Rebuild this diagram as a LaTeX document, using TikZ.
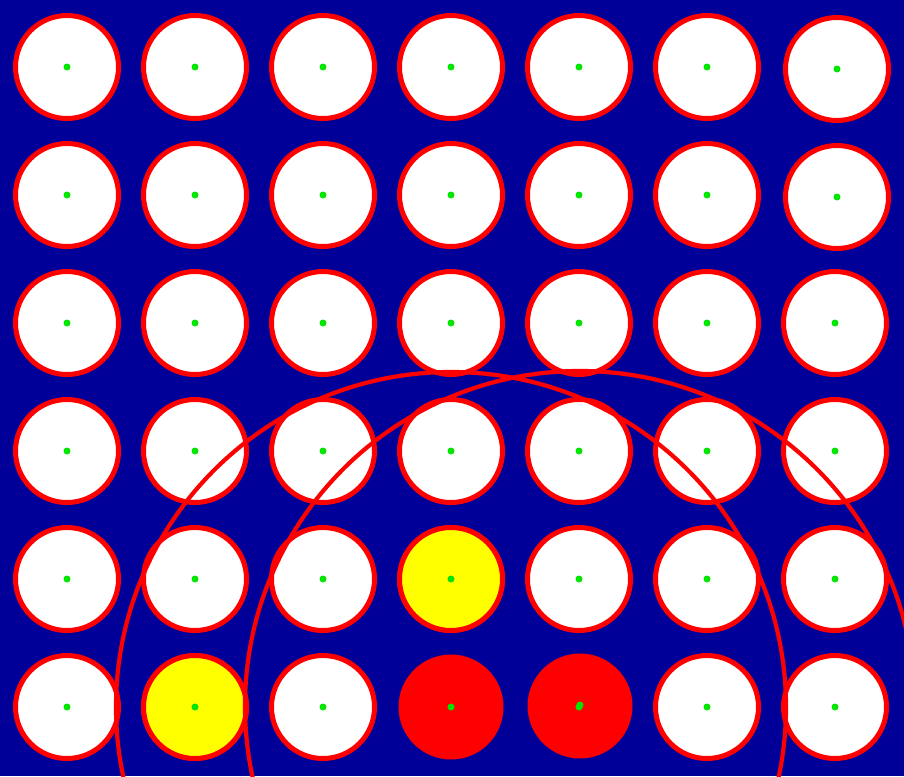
\documentclass[tikz,border=0pt]{standalone}
\definecolor{boardblue}{RGB}{0,0,153}
\definecolor{holered}{RGB}{255,0,0}
\definecolor{dotgreen}{RGB}{0,230,0}
\definecolor{pieceyellow}{RGB}{255,255,0}
\tikzset{
  hole/.style={circle,draw=holered,line width=5pt,fill=white,minimum size=103pt,inner sep=0pt},
  yellowpiece/.style={hole,fill=pieceyellow},
  redpiece/.style={circle,fill=holered,minimum size=105pt,inner sep=0pt},
  centerdot/.style={circle,fill=dotgreen,minimum size=7pt,inner sep=0pt},
  reach/.style={draw=holered,line width=4.2pt}
}
\begin{document}
\begin{tikzpicture}[x=1pt,y=-1pt]
\fill[boardblue] (0,0) rectangle (904,776);
\useasboundingbox (0,0) rectangle (904,776);
\foreach \c in {0,...,6}{
  \foreach \r in {0,...,5}{
    \pgfmathsetmacro{\xx}{67+128*\c}
    \pgfmathsetmacro{\yy}{67+128*\r}
    \ifnum\c=6 \ifnum\r<2
      \pgfmathsetmacro{\xx}{\xx+2}
      \pgfmathsetmacro{\yy}{\yy+2}
    \fi\fi
    \node[hole] (h\c\r) at (\xx,\yy) {};
  }
}
\node[yellowpiece] (y1) at (195,707) {};
\node[yellowpiece] (y2) at (451,579) {};
\fill[boardblue] (451,707) circle (57);
\fill[boardblue] (579,706) circle (57);
\node[redpiece] (r1) at (451,707) {};
\node[redpiece] (r2) at (580,706) {};
\foreach \c in {0,...,6}{
  \foreach \r in {0,...,5}{
    \node[centerdot] (d\c\r) at (h\c\r.center) {};
  }
}
\node[centerdot] (dr2) at (580,705) {};
\draw[reach] (r1.center) circle (335);
\draw[reach] (r2.center) circle (335);
\end{tikzpicture}
\end{document}
